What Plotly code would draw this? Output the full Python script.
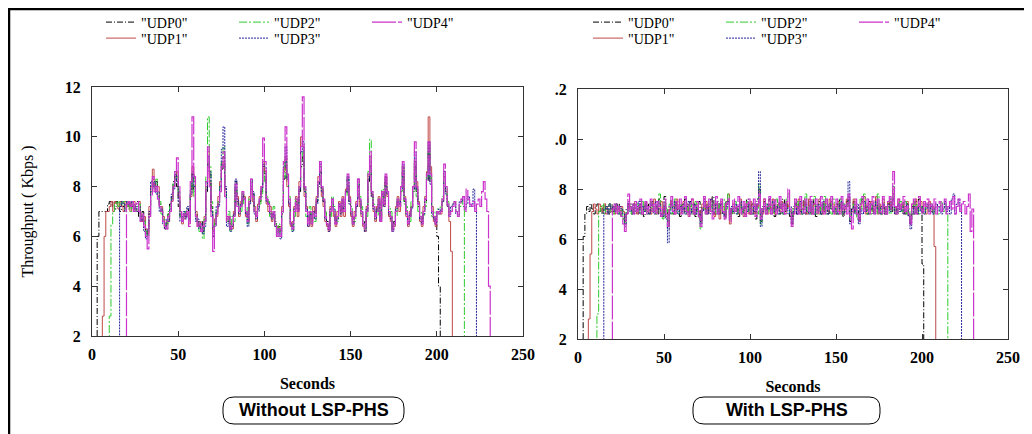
import plotly.graph_objects as go

# ---------------- data ----------------
seconds = list(range(0, 236))
tick_x = [0, 50, 100, 150, 200, 250]
tick_y = [2, 4, 6, 8, 10, 12]
tick_y_text_right = ["2", "4", "6", "8", ".0", ".2"]
names = ['"UDP0"', '"UDP1"', '"UDP2"', '"UDP3"', '"UDP4"']

# Without LSP-PHS (left panel), Kbps per second
without_udp0 = [
    0, 0, 0, 6.0, 7.0, 7.0, 7.0, 7.0, 7.0, 7.3,
    7.4, 7.2, 7.4, 7.1, 7.4, 7.3, 7.0, 7.4, 7.2, 7.4,
    7.3, 7.1, 7.4, 7.2, 7.0, 7.3, 7.4, 6.8, 6.6, 7.0,
    6.3, 6.0, 6.2, 6.9, 7.8, 8.3, 8.0, 8.2, 7.6, 7.3,
    7.0, 6.6, 6.4, 6.5, 6.9, 7.3, 7.6, 8.2, 8.6, 8.0,
    7.2, 6.8, 6.6, 6.9, 6.8, 7.1, 6.7, 7.9, 8.6, 7.8,
    6.9, 6.6, 6.4, 6.6, 6.2, 6.6, 7.8, 9.0, 8.5, 7.2,
    6.0, 6.5, 7.0, 7.3, 7.8, 8.7, 9.2, 7.9, 6.6, 6.8,
    6.3, 6.5, 6.8, 8.2, 7.4, 7.0, 7.2, 7.7, 7.4, 7.0,
    6.6, 7.4, 8.2, 7.7, 7.0, 6.8, 7.1, 7.4, 7.8, 8.8,
    8.4, 7.5, 7.2, 7.0, 6.8, 7.0, 6.6, 6.2, 6.4, 6.2,
    6.9, 8.3, 8.8, 8.2, 7.4, 6.6, 6.4, 7.0, 7.4, 7.0,
    7.8, 8.8, 9.2, 7.9, 7.0, 6.6, 7.0, 6.6, 7.0, 6.8,
    7.4, 8.0, 8.6, 7.9, 7.4, 6.8, 6.6, 6.4, 7.0, 7.4,
    7.0, 6.6, 6.8, 7.2, 7.0, 7.4, 7.0, 7.7, 8.3, 7.4,
    7.0, 6.6, 6.8, 7.2, 8.0, 7.4, 7.0, 6.6, 6.4, 7.0,
    8.2, 8.8, 7.7, 7.2, 6.8, 7.0, 7.4, 6.7, 7.7, 7.3,
    8.2, 7.7, 7.0, 6.8, 6.3, 6.6, 7.0, 7.4, 7.2, 7.8,
    8.6, 7.4, 7.0, 6.6, 6.8, 7.2, 7.8, 8.8, 7.8, 7.2,
    6.8, 6.6, 7.0, 7.4, 8.2, 9.4, 8.2, 7.0, 6.8, 6.6,
    6.0, 4.0, 0,
]
without_udp1 = [
    0, 0, 0, 0, 0, 0, 2.8, 6.0, 7.0, 7.0,
    7.2, 7.4, 7.0, 7.4, 7.3, 7.1, 7.4, 7.2, 7.0, 7.4,
    7.2, 7.4, 7.0, 7.3, 7.4, 7.1, 7.0, 7.4, 6.9, 6.6,
    6.8, 6.3, 6.1, 7.2, 8.0, 8.7, 8.1, 7.8, 8.0, 7.2,
    7.2, 6.8, 6.3, 6.6, 6.6, 7.0, 7.4, 8.0, 8.4, 8.6,
    7.6, 7.0, 6.5, 6.7, 7.0, 6.9, 6.5, 7.6, 8.8, 8.2,
    7.0, 6.4, 6.6, 6.3, 6.4, 6.8, 8.0, 9.4, 8.2, 7.0,
    6.2, 6.7, 6.8, 7.6, 8.2, 8.9, 9.0, 7.6, 6.8, 6.6,
    6.5, 6.3, 7.0, 7.8, 7.6, 6.8, 7.4, 7.5, 7.6, 6.8,
    6.8, 7.6, 7.9, 7.4, 7.2, 6.6, 7.3, 7.6, 8.0, 9.0,
    8.6, 7.3, 7.0, 7.2, 6.6, 6.8, 6.4, 6.4, 6.2, 6.4,
    7.2, 8.6, 9.2, 8.0, 7.2, 6.4, 6.6, 7.2, 7.6, 6.8,
    8.2, 10.0, 9.6, 7.6, 7.2, 6.4, 6.8, 6.4, 7.2, 7.0,
    7.6, 8.4, 8.6, 7.6, 7.2, 6.6, 6.4, 6.2, 7.2, 7.2,
    6.8, 6.4, 7.0, 7.4, 6.8, 7.6, 6.8, 7.9, 8.0, 7.6,
    6.8, 6.4, 7.0, 7.4, 8.3, 7.2, 6.8, 6.4, 6.2, 7.2,
    8.4, 9.2, 7.6, 7.0, 6.6, 7.2, 7.6, 6.6, 7.6, 7.2,
    8.4, 7.6, 6.8, 6.6, 6.4, 6.4, 7.2, 7.6, 7.0, 8.0,
    8.8, 7.6, 6.8, 6.4, 7.0, 7.2, 8.0, 9.0, 8.2, 7.4,
    6.6, 6.4, 7.2, 7.6, 8.6, 10.8, 8.8, 7.2, 6.6, 6.4,
    7.0, 7.0, 6.9, 7.4, 8.4, 7.8, 7.2, 6.6, 5.4, 0,
]
without_udp2 = [
    0, 0, 0, 0, 0, 0, 0, 0, 0, 0,
    2.8, 6.5, 7.0, 7.3, 7.4, 7.2, 7.4, 7.3, 7.4, 7.1,
    7.4, 7.2, 7.0, 7.4, 7.3, 7.0, 7.2, 7.3, 6.8, 6.9,
    6.6, 6.2, 6.0, 6.8, 7.8, 8.2, 7.9, 8.3, 7.6, 7.4,
    6.9, 6.7, 6.5, 6.3, 7.0, 7.2, 7.5, 8.1, 8.3, 8.4,
    7.8, 6.8, 6.7, 6.8, 7.0, 7.0, 6.8, 7.8, 8.4, 7.6,
    6.8, 6.5, 6.2, 6.4, 5.9, 6.7, 8.4, 10.8, 8.8, 7.4,
    6.4, 6.6, 7.1, 7.4, 8.0, 9.0, 9.6, 7.8, 6.6, 7.0,
    6.2, 6.8, 6.6, 8.0, 7.3, 7.2, 7.0, 7.8, 7.3, 7.2,
    6.5, 7.5, 8.0, 7.6, 7.0, 7.0, 7.2, 7.3, 7.6, 8.6,
    8.2, 7.6, 7.4, 6.8, 7.0, 7.2, 6.5, 6.0, 6.5, 6.0,
    7.0, 8.4, 9.0, 8.4, 7.6, 6.5, 6.2, 6.8, 7.5, 7.2,
    8.0, 9.0, 9.4, 8.0, 6.8, 6.8, 7.2, 6.5, 6.9, 6.6,
    7.5, 8.2, 8.8, 8.0, 7.5, 7.0, 6.5, 6.4, 6.8, 7.6,
    7.2, 6.6, 6.6, 7.3, 7.2, 7.3, 7.2, 7.6, 8.4, 7.5,
    7.2, 6.5, 6.6, 7.3, 8.1, 7.6, 7.2, 6.5, 6.3, 6.8,
    8.6, 9.9, 7.8, 7.3, 7.0, 6.8, 7.5, 6.8, 7.9, 7.4,
    8.0, 7.8, 7.2, 7.0, 6.2, 6.5, 6.8, 7.5, 7.4, 7.8,
    8.8, 7.3, 7.2, 6.5, 6.6, 7.4, 7.8, 9.0, 7.6, 7.0,
    7.0, 6.7, 6.8, 7.2, 8.4, 9.6, 8.4, 6.8, 7.0, 6.8,
    7.1, 6.9, 7.2, 7.6, 8.6, 8.0, 7.4, 6.9, 7.0, 7.3,
    7.4, 7.0, 6.8, 7.2, 7.5, 7.2, 0,
]
without_udp3 = [
    0, 0, 0, 0, 0, 0, 0, 0, 0, 0,
    0, 0, 0, 0, 0, 0, 7.2, 7.4, 7.3, 7.0,
    7.4, 7.3, 7.2, 7.4, 7.1, 7.2, 7.0, 7.2, 6.6, 6.8,
    6.2, 5.9, 6.3, 7.0, 8.2, 8.0, 8.2, 7.7, 7.8, 7.0,
    7.1, 6.5, 6.3, 6.7, 6.6, 7.1, 7.7, 7.9, 8.5, 8.2,
    7.4, 6.6, 6.8, 7.0, 6.7, 7.2, 6.6, 7.7, 8.5, 8.0,
    6.6, 6.7, 6.3, 6.5, 6.1, 6.4, 7.9, 9.2, 8.6, 7.0,
    6.0, 6.4, 7.2, 7.2, 8.0, 9.5, 10.4, 8.0, 6.4, 6.6,
    6.2, 6.4, 6.9, 8.3, 7.5, 6.9, 7.3, 7.6, 7.5, 6.9,
    6.4, 7.3, 8.3, 7.8, 6.9, 6.7, 7.0, 7.5, 7.9, 8.9,
    8.8, 7.4, 7.3, 6.9, 6.7, 6.9, 6.4, 6.1, 6.3, 5.9,
    7.0, 8.8, 9.6, 8.3, 7.3, 6.5, 6.2, 7.1, 7.3, 7.1,
    7.9, 9.4, 9.8, 7.8, 7.1, 6.4, 6.9, 6.7, 7.0, 6.7,
    7.3, 8.1, 8.9, 7.8, 7.4, 6.7, 6.5, 6.2, 7.1, 7.5,
    7.1, 6.5, 6.7, 7.3, 6.9, 7.5, 7.1, 7.8, 8.4, 7.3,
    6.9, 6.5, 6.8, 7.2, 8.3, 7.5, 6.9, 6.5, 6.2, 7.1,
    8.3, 9.0, 7.6, 7.1, 6.7, 7.1, 7.3, 6.6, 7.8, 7.2,
    8.4, 7.7, 6.9, 6.7, 6.2, 6.5, 7.1, 7.4, 7.3, 7.9,
    8.9, 7.5, 6.9, 6.5, 6.9, 7.1, 7.9, 9.4, 7.9, 7.3,
    6.7, 6.5, 6.9, 7.5, 8.3, 9.8, 8.1, 6.9, 6.7, 6.5,
    7.0, 7.1, 7.0, 7.4, 8.6, 7.7, 7.2, 6.8, 7.2, 7.3,
    7.3, 6.9, 6.8, 7.4, 7.4, 7.6, 7.1, 7.3, 7.6, 7.2,
    7.3, 7.9, 7.1, 0,
]
without_udp4 = [
    0, 0, 0, 0, 0, 0, 0, 0, 0, 0,
    0, 0, 0, 0, 0, 0, 0, 0, 0, 0,
    7.3, 7.4, 7.2, 7.4, 7.0, 7.3, 7.4, 7.0, 6.6, 6.9,
    6.4, 6.0, 5.5, 6.8, 7.6, 8.4, 7.8, 8.0, 7.5, 7.2,
    7.0, 6.6, 6.4, 6.3, 6.8, 7.0, 7.4, 8.0, 8.6, 9.15,
    8.0, 7.0, 6.6, 6.9, 6.8, 7.0, 6.4, 8.2, 10.8, 8.4,
    6.8, 6.4, 6.5, 6.2, 6.4, 6.6, 8.2, 9.6, 8.0, 6.8,
    5.4, 6.4, 6.9, 7.4, 7.8, 8.8, 9.4, 7.6, 6.6, 6.8,
    6.3, 6.5, 6.8, 8.1, 7.2, 7.0, 7.2, 7.8, 7.5, 7.0,
    6.6, 7.4, 8.3, 7.6, 7.0, 6.8, 7.2, 7.5, 8.0, 9.95,
    9.0, 7.5, 7.3, 7.0, 6.8, 7.0, 6.5, 6.0, 6.3, 6.0,
    7.0, 9.0, 10.4, 8.5, 7.5, 6.5, 6.3, 7.0, 7.5, 7.0,
    8.0, 9.6, 11.6, 8.0, 7.0, 6.5, 7.0, 6.5, 7.0, 6.8,
    7.5, 8.2, 9.0, 8.0, 7.5, 6.8, 6.5, 6.3, 7.0, 7.5,
    7.0, 6.5, 6.8, 7.3, 7.0, 7.5, 7.0, 7.8, 8.5, 7.5,
    7.0, 6.5, 6.8, 7.3, 8.3, 7.5, 7.0, 6.5, 6.3, 7.0,
    8.5, 9.4, 7.8, 7.2, 6.8, 7.0, 7.5, 6.6, 7.8, 7.3,
    8.5, 7.8, 7.0, 6.8, 6.2, 6.5, 7.0, 7.5, 7.2, 8.0,
    9.0, 7.5, 7.0, 6.5, 6.8, 7.2, 8.0, 9.8, 8.0, 7.3,
    6.8, 6.5, 7.0, 7.5, 8.5, 9.8, 8.5, 7.0, 6.8, 6.5,
    7.0, 6.9, 7.0, 7.5, 8.9, 8.0, 7.3, 6.8, 7.0, 7.2,
    7.4, 7.0, 6.8, 7.3, 7.5, 7.6, 7.0, 7.9, 7.5, 7.3,
    7.2, 7.4, 7.0, 7.3, 7.5, 7.2, 7.8, 8.2, 7.5, 7.0,
    4.0, 0,
]

# With LSP-PHS (right panel), Kbps per second
with_udp0 = [
    0, 0, 0, 6.1, 7.0, 7.3, 7.1, 7.4, 7.2, 7.0,
    7.3, 7.4, 7.1, 7.3, 7.0, 7.4, 7.2, 7.3, 7.0, 7.4,
    7.1, 7.3, 7.0, 7.4, 7.2, 6.9, 6.8, 6.6, 7.2, 7.5,
    7.2, 7.0, 7.4, 7.1, 7.3, 7.0, 7.5, 7.2, 6.9, 7.3,
    7.4, 7.0, 7.2, 7.5, 7.1, 7.3, 7.0, 7.6, 7.2, 6.9,
    7.7, 7.1, 6.4, 7.3, 7.6, 7.0, 7.3, 7.5, 7.1, 6.9,
    7.4, 7.2, 7.6, 7.0, 7.3, 7.5, 7.1, 7.4, 6.9, 7.2,
    7.5, 6.7, 7.3, 7.6, 7.1, 7.4, 7.0, 7.3, 7.7, 7.0,
    7.2, 7.5, 7.0, 7.4, 7.1, 6.8, 7.5, 7.6, 6.9, 7.3,
    7.0, 7.4, 7.2, 6.9, 7.5, 7.1, 7.3, 7.0, 7.6, 7.2,
    7.0, 7.4, 7.1, 6.8, 7.6, 8.0, 6.7, 7.3, 7.5, 7.0,
    7.3, 7.6, 7.0, 7.4, 6.9, 7.2, 7.5, 7.0, 7.3, 7.6,
    7.1, 7.4, 7.2, 6.9, 6.6, 7.3, 7.6, 7.0, 7.4, 7.1,
    7.3, 7.6, 7.0, 7.2, 7.5, 7.0, 7.3, 7.6, 6.9, 7.2,
    7.5, 7.0, 7.4, 7.1, 7.6, 7.0, 7.3, 7.5, 7.0, 7.2,
    7.4, 7.0, 7.6, 7.2, 6.9, 7.4, 7.5, 7.7, 6.7, 7.2,
    7.5, 7.0, 7.3, 6.7, 7.4, 7.6, 7.1, 7.3, 7.0, 7.5,
    7.2, 7.0, 7.4, 7.6, 7.1, 7.3, 7.0, 7.5, 7.2, 7.0,
    7.4, 7.6, 7.1, 7.8, 7.3, 7.0, 7.4, 7.1, 7.5, 7.2,
    7.0, 7.4, 6.9, 6.6, 7.3, 7.0, 7.5, 7.2, 7.6, 7.3,
    5.0, 0,
]
with_udp1 = [
    0, 0, 0, 0, 0, 0, 2.8, 5.4, 7.1, 7.4,
    7.2, 7.0, 7.4, 7.3, 7.1, 7.4, 7.0, 7.3, 7.4, 7.1,
    7.3, 7.0, 7.4, 7.2, 7.0, 7.3, 7.1, 6.7, 7.0, 7.4,
    7.3, 7.1, 7.2, 7.5, 7.0, 7.2, 7.4, 7.0, 7.3, 7.5,
    7.1, 7.3, 7.0, 7.4, 7.6, 7.0, 7.3, 7.2, 7.5, 7.0,
    7.3, 6.9, 6.7, 7.2, 7.5, 7.3, 7.0, 7.6, 7.2, 7.0,
    7.3, 7.5, 7.1, 7.4, 6.9, 7.3, 7.6, 7.0, 7.2, 7.4,
    7.1, 6.8, 7.4, 7.2, 7.5, 7.0, 7.3, 7.6, 7.1, 6.9,
    7.4, 7.2, 6.8, 7.5, 7.3, 7.0, 7.4, 7.8, 6.6, 7.2,
    7.4, 7.1, 7.3, 7.0, 7.6, 7.2, 6.9, 7.4, 7.3, 7.0,
    7.5, 7.2, 7.0, 7.4, 7.3, 7.9, 6.9, 7.0, 7.6, 7.2,
    7.0, 7.4, 7.2, 7.6, 7.0, 7.3, 7.4, 7.1, 7.5, 7.3,
    7.0, 7.5, 7.3, 7.1, 6.8, 7.0, 7.4, 7.2, 7.6, 7.0,
    7.2, 7.5, 7.3, 7.0, 7.6, 7.2, 7.0, 7.4, 7.3, 7.0,
    7.6, 7.2, 7.0, 7.5, 7.3, 7.1, 7.6, 7.2, 7.4, 7.0,
    7.3, 7.5, 7.1, 7.4, 7.0, 7.2, 7.6, 7.3, 6.9, 7.1,
    7.6, 7.2, 7.0, 6.8, 7.3, 7.5, 7.7, 7.0, 7.4, 7.2,
    7.5, 7.1, 7.3, 7.7, 7.0, 7.4, 7.2, 7.6, 7.0, 7.3,
    7.5, 7.2, 7.4, 8.0, 7.0, 7.3, 7.6, 7.2, 7.4, 7.0,
    7.3, 7.5, 7.0, 6.8, 7.4, 7.2, 7.6, 7.0, 7.3, 7.5,
    7.1, 7.4, 7.0, 7.3, 7.5, 7.1, 7.3, 5.7, 0,
]
with_udp2 = [
    0, 0, 0, 0, 0, 0, 0, 0, 0, 0,
    0, 3.0, 7.1, 7.3, 7.4, 7.0, 7.3, 7.2, 7.4, 7.1,
    7.0, 7.4, 7.2, 7.3, 7.0, 7.2, 6.8, 6.5, 7.1, 7.3,
    7.4, 7.0, 7.3, 7.1, 7.4, 7.2, 7.0, 7.5, 7.1, 7.4,
    7.0, 7.3, 7.5, 7.1, 7.3, 7.0, 7.4, 7.8, 7.0, 6.8,
    7.5, 7.2, 6.5, 7.4, 7.0, 7.3, 7.6, 7.1, 7.0, 7.4,
    7.2, 7.0, 7.5, 7.3, 7.1, 7.4, 7.0, 7.3, 7.5, 7.1,
    6.8, 6.4, 7.2, 7.4, 7.0, 7.3, 7.5, 7.1, 7.4, 7.2,
    7.0, 7.4, 7.1, 7.3, 7.6, 7.0, 7.2, 7.8, 6.8, 7.0,
    7.3, 7.5, 7.0, 7.2, 7.4, 7.0, 7.3, 7.2, 7.5, 7.1,
    7.3, 7.0, 7.4, 7.2, 7.0, 8.2, 6.6, 7.2, 7.3, 7.4,
    7.1, 7.3, 7.5, 7.0, 7.2, 7.6, 7.0, 7.3, 7.4, 7.0,
    7.3, 7.6, 7.8, 7.0, 6.7, 7.2, 7.3, 7.5, 7.1, 7.4,
    7.0, 7.3, 7.8, 7.1, 7.3, 7.0, 7.5, 7.7, 7.0, 7.3,
    7.0, 7.4, 7.2, 7.7, 7.0, 7.3, 7.4, 7.0, 7.6, 7.2,
    7.0, 7.3, 7.6, 7.0, 7.4, 7.1, 7.3, 7.5, 6.8, 7.0,
    7.4, 7.1, 6.8, 7.0, 7.6, 7.2, 7.8, 7.3, 7.0, 7.4,
    7.0, 7.3, 7.5, 7.0, 7.8, 7.2, 7.0, 7.4, 7.3, 7.1,
    7.3, 7.0, 7.6, 8.1, 7.2, 7.0, 7.3, 7.5, 7.1, 7.3,
    7.5, 7.0, 7.2, 6.8, 7.3, 7.5, 7.1, 7.4, 7.0, 7.3,
    7.2, 7.0, 7.4, 7.3, 7.1, 7.4, 7.0, 7.3, 7.2, 7.0,
    7.3, 7.5, 7.1, 7.4, 7.0, 0,
]
with_udp3 = [
    0, 0, 0, 0, 0, 0, 0, 0, 0, 0,
    0, 0, 0, 0, 0, 7.2, 7.3, 7.0, 7.4, 7.2,
    7.3, 7.1, 7.4, 7.0, 7.3, 7.2, 7.0, 6.6, 7.0, 7.4,
    7.1, 7.3, 7.0, 7.4, 7.2, 7.5, 7.0, 7.3, 7.1, 7.4,
    7.2, 7.0, 7.4, 7.3, 7.0, 7.5, 7.2, 7.4, 7.0, 6.9,
    7.3, 6.8, 5.85, 7.0, 7.4, 7.1, 7.5, 7.2, 7.0, 7.3,
    7.1, 7.4, 7.0, 7.3, 7.5, 7.0, 7.2, 7.4, 7.0, 7.3,
    7.0, 6.6, 7.1, 7.5, 7.3, 7.0, 7.4, 7.6, 7.0, 7.2,
    7.5, 7.0, 7.2, 7.4, 7.0, 6.9, 7.3, 7.5, 7.0, 7.3,
    7.1, 7.4, 7.0, 7.3, 7.5, 7.0, 7.2, 7.3, 7.1, 7.4,
    7.2, 7.0, 7.3, 7.1, 7.4, 8.7, 6.5, 7.1, 7.3, 7.0,
    7.4, 7.2, 7.0, 7.5, 7.1, 7.3, 7.0, 7.4, 7.2, 7.0,
    7.4, 7.2, 7.0, 7.3, 6.7, 7.1, 7.4, 7.0, 7.3, 7.5,
    7.0, 7.2, 7.4, 7.1, 7.0, 7.5, 7.2, 7.0, 7.3, 7.4,
    7.1, 7.0, 7.5, 7.2, 7.3, 7.0, 7.4, 7.2, 7.1, 7.3,
    7.0, 7.4, 7.2, 7.5, 7.0, 7.3, 7.4, 8.3, 6.6, 7.2,
    7.3, 7.0, 7.4, 6.6, 7.2, 7.0, 7.5, 7.1, 7.3, 7.0,
    7.4, 7.2, 7.0, 7.5, 7.2, 7.0, 7.3, 7.4, 7.0, 7.2,
    7.4, 7.1, 7.3, 7.6, 7.0, 7.2, 7.4, 7.1, 7.3, 7.0,
    7.2, 7.4, 6.9, 6.4, 7.0, 7.3, 7.2, 7.0, 7.4, 7.1,
    7.3, 7.0, 7.2, 7.4, 7.1, 7.3, 7.0, 7.2, 7.4, 7.1,
    7.3, 7.0, 7.2, 7.5, 7.1, 7.3, 7.0, 7.6, 7.8, 7.0,
    7.4, 7.6, 7.1, 0,
]
with_udp4 = [
    0, 0, 0, 0, 0, 0, 0, 0, 0, 0,
    0, 0, 0, 0, 0, 0, 0, 0, 0, 0,
    7.2, 7.4, 7.0, 7.3, 7.1, 6.9, 6.6, 6.3, 7.0, 7.8,
    7.2, 7.4, 7.0, 7.5, 7.1, 7.3, 7.6, 7.0, 7.2, 7.5,
    7.0, 7.3, 7.6, 7.1, 7.4, 7.0, 7.5, 7.3, 6.9, 7.2,
    7.6, 7.0, 6.5, 7.3, 7.7, 7.1, 7.0, 7.5, 7.2, 7.6,
    7.0, 7.3, 7.7, 7.1, 6.9, 7.4, 7.6, 7.0, 7.3, 7.5,
    6.9, 6.5, 7.2, 7.7, 7.0, 7.3, 7.6, 7.1, 6.8, 7.4,
    7.7, 7.0, 7.2, 7.6, 7.1, 6.8, 7.4, 7.6, 6.7, 7.2,
    7.6, 7.1, 7.3, 7.7, 7.0, 7.2, 7.5, 6.9, 7.4, 7.6,
    7.0, 7.3, 7.6, 6.9, 7.4, 7.8, 6.8, 7.2, 7.6, 7.0,
    7.3, 7.7, 7.0, 7.4, 7.6, 7.0, 7.2, 7.7, 7.1, 7.4,
    7.0, 7.5, 8.0, 7.2, 6.5, 7.0, 7.6, 7.3, 7.0, 7.7,
    7.2, 7.0, 7.6, 7.3, 7.1, 7.7, 7.0, 7.4, 7.6, 7.0,
    7.3, 7.7, 7.1, 7.0, 7.6, 7.2, 7.4, 7.7, 7.0, 7.3,
    7.6, 7.1, 7.0, 7.7, 7.2, 7.4, 7.0, 7.8, 6.9, 6.4,
    7.2, 7.6, 7.0, 6.7, 7.4, 7.7, 7.1, 7.3, 7.6, 7.0,
    7.4, 7.7, 7.0, 7.3, 7.6, 7.1, 7.0, 7.7, 7.3, 7.0,
    7.5, 7.7, 7.2, 8.7, 7.3, 7.0, 7.6, 7.2, 7.4, 7.7,
    7.1, 7.3, 7.0, 6.6, 7.4, 7.6, 7.0, 7.3, 7.7, 7.2,
    7.0, 7.5, 7.3, 7.6, 7.0, 7.4, 7.2, 7.6, 7.0, 7.3,
    7.5, 7.1, 7.4, 7.6, 7.0, 7.3, 7.5, 7.2, 7.7, 7.0,
    7.3, 7.6, 7.1, 7.4, 7.5, 7.0, 7.3, 7.8, 6.3, 7.2,
    0,
]

without_series = [without_udp0, without_udp1, without_udp2, without_udp3, without_udp4]
with_series = [with_udp0, with_udp1, with_udp2, with_udp3, with_udp4]

# ---------------- styling ----------------
colors = ["#000000", "#c04848", "#2ecc2e", "#24249a", "#cc33cc"]
dashes = ["6px,2px,1px,2px", "solid", "8px,2px,2px,2px", "2px,1px", "24px,2px"]
widths = [1.0, 1.0, 1.0, 1.0, 1.2]

# page coordinates (the page shows the figure 8 px in from its top-left)
OFF = 8
W, H = 1032, 434
L, R, T, B = 92, 1008, 87, 339          # union of both plot areas, page px
PW, PH = R - L, B - T


def px(x):
    return (x - L) / PW


def py(y):
    return (B - y) / PH


serif = "Liberation Serif"
sans = "Liberation Sans"

fig = go.Figure()
legend_of = {0: "legend", 2: "legend", 4: "legend", 1: "legend2", 3: "legend2"}
legend_of_r = {0: "legend3", 2: "legend3", 4: "legend3", 1: "legend4", 3: "legend4"}

for i, vals in enumerate(without_series):
    fig.add_trace(go.Scatter(
        x=seconds[:len(vals)], y=vals, name=names[i], mode="lines",
        line=dict(color=colors[i], width=widths[i], dash=dashes[i], shape="hv"),
        xaxis="x", yaxis="y", legend=legend_of[i]))
for i, vals in enumerate(with_series):
    fig.add_trace(go.Scatter(
        x=seconds[:len(vals)], y=vals, name=names[i], mode="lines",
        line=dict(color=colors[i], width=widths[i], dash=dashes[i], shape="hv"),
        xaxis="x2", yaxis="y2", legend=legend_of_r[i]))

tickfont = dict(family=serif, size=16, color="black", weight="bold")
axis_common = dict(
    ticks="inside", ticklen=5, tickcolor="#333", mirror="allticks",
    showline=True, linecolor="#333", linewidth=1, showgrid=False,
    zeroline=False, tickfont=tickfont,
)

legend_common = dict(
    orientation="h", xanchor="left", yanchor="middle",
    entrywidth=88, entrywidthmode="pixels",
    font=dict(family=serif, size=14, color="black"),
    bgcolor="rgba(0,0,0,0)", borderwidth=0, tracegroupgap=0,
)

fig.update_layout(
    width=W, height=H, template="none",
    paper_bgcolor="white", plot_bgcolor="white",
    margin=dict(l=L - OFF, r=W - (R - OFF), t=T - OFF, b=H - (B - OFF),
                autoexpand=False),
    font=dict(family=serif, size=16, color="black"),
    showlegend=True,
    xaxis=dict(domain=[0, px(523)], range=[0, 250], tickvals=tick_x,
               anchor="y", ticklabelstandoff=4,
               title=dict(text="Seconds", standoff=15,
                          font=dict(family=serif, size=16, weight="bold")),
               **axis_common),
    yaxis=dict(domain=[py(336), 1], range=[2, 12], tickvals=tick_y,
               anchor="x", ticklabelstandoff=7,
               title=dict(text="Throughput ( Kbps )", standoff=27,
                          font=dict(family=serif, size=16)),
               **axis_common),
    xaxis2=dict(domain=[px(578), 1], range=[0, 250], tickvals=tick_x,
                anchor="y2", ticklabelstandoff=4,
                title=dict(text="Seconds", standoff=15,
                           font=dict(family=serif, size=16, weight="bold")),
                **axis_common),
    yaxis2=dict(domain=[0, py(89)], range=[2, 12], tickvals=tick_y,
                ticktext=tick_y_text_right, anchor="x2", ticklabelstandoff=7,
                **axis_common),
    legend=dict(x=px(101), y=py(22.5), **legend_common),
    legend2=dict(x=px(101), y=py(38.5), **legend_common),
    legend3=dict(x=px(588), y=py(22.5), **legend_common),
    legend4=dict(x=px(588), y=py(38.5), **legend_common),
)


def rounded_box(x0, y0, x1, y1, r):
    def P(x, y):
        return f"{px(x):.5f},{py(y):.5f}"
    return (f"M {P(x0 + r, y0)} L {P(x1 - r, y0)} Q {P(x1, y0)} {P(x1, y0 + r)} "
            f"L {P(x1, y1 - r)} Q {P(x1, y1)} {P(x1 - r, y1)} "
            f"L {P(x0 + r, y1)} Q {P(x0, y1)} {P(x0, y1 - r)} "
            f"L {P(x0, y0 + r)} Q {P(x0, y0)} {P(x0 + r, y0)} Z")


shapes = [
    # outer frame of the figure (left and top edges)
    dict(type="line", xref="paper", yref="paper", x0=px(9), x1=px(9),
         y0=py(9), y1=py(460), line=dict(color="black", width=2.5)),
    dict(type="line", xref="paper", yref="paper", x0=px(8), x1=px(1045),
         y0=py(9), y1=py(9), line=dict(color="black", width=2.5)),
    dict(type="path", xref="paper", yref="paper",
         path=rounded_box(223, 397, 404, 424, 11),
         line=dict(color="black", width=1)),
    dict(type="path", xref="paper", yref="paper",
         path=rounded_box(693, 397, 880, 424, 11),
         line=dict(color="black", width=1)),
]
fig.update_layout(shapes=shapes)

fig.add_annotation(xref="paper", yref="paper", x=px(313.5), y=py(410.5),
                   xanchor="center", yanchor="middle",
                   text="Without LSP-PHS", showarrow=False,
                   font=dict(family=sans, size=18, color="black", weight="bold"))
fig.add_annotation(xref="paper", yref="paper", x=px(786.5), y=py(410.5),
                   xanchor="center", yanchor="middle",
                   text="With LSP-PHS", showarrow=False,
                   font=dict(family=sans, size=18, color="black", weight="bold"))

fig.write_html("out.html")
